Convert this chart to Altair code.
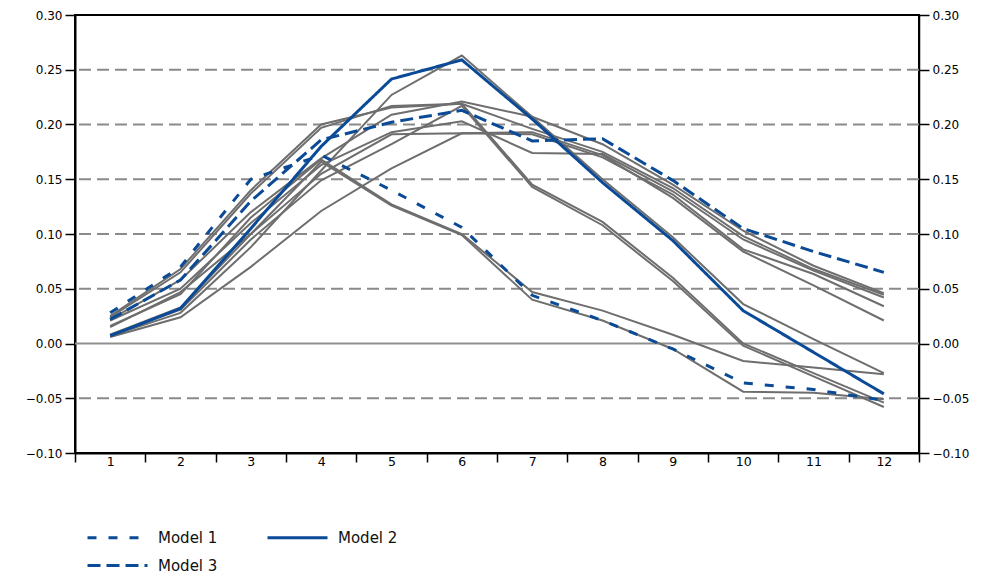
import altair as alt
import pandas as pd

# ---------------- data ----------------
periods = list(range(1, 13))

model_names = ["Model 1", "Model 2", "Model 3"]
model1 = [0.028, 0.070, 0.150, 0.172, 0.140, 0.106, 0.044, 0.021, -0.005, -0.036, -0.042, -0.052]
model2 = [0.007, 0.032, 0.105, 0.180, 0.2415, 0.259, 0.205, 0.147, 0.094, 0.030, -0.008, -0.046]
model3 = [0.022, 0.058, 0.130, 0.186, 0.202, 0.213, 0.185, 0.187, 0.149, 0.105, 0.084, 0.065]

gray_a = [0.022, 0.058, 0.120, 0.169, 0.209, 0.221, 0.207, 0.182, 0.145, 0.103, 0.071, 0.046]
gray_b = [0.024, 0.065, 0.137, 0.197, 0.217, 0.219, 0.196, 0.175, 0.142, 0.098, 0.068, 0.0445]
gray_c = [0.021, 0.050, 0.110, 0.163, 0.193, 0.203, 0.174, 0.173, 0.139, 0.095, 0.0665, 0.042]
gray_d = [0.015, 0.047, 0.100, 0.155, 0.191, 0.192, 0.191, 0.170, 0.136, 0.086, 0.0635, 0.034]
gray_e = [0.006, 0.024, 0.070, 0.121, 0.160, 0.192, 0.193, 0.172, 0.133, 0.084, 0.053, 0.021]
gray_f = [0.007, 0.028, 0.088, 0.158, 0.227, 0.263, 0.207, 0.150, 0.097, 0.036, 0.004, -0.027]
gray_g = [0.016, 0.045, 0.115, 0.168, 0.127, 0.100, 0.047, 0.030, 0.008, -0.016, -0.022, -0.028]
gray_h = [0.008, 0.033, 0.100, 0.166, 0.126, 0.099, 0.040, 0.021, -0.005, -0.044, -0.045, -0.051]
gray_i = [0.025, 0.068, 0.140, 0.200, 0.2155, 0.219, 0.145, 0.111, 0.060, 0.000, -0.027, -0.054]
gray_j = [0.008, 0.031, 0.095, 0.149, 0.182, 0.217, 0.143, 0.108, 0.057, -0.002, -0.030, -0.058]

grid_values = [-0.05, 0.05, 0.10, 0.15, 0.20, 0.25]
zero_value = [0.0]
y_ticks = [-0.10, -0.05, 0.00, 0.05, 0.10, 0.15, 0.20, 0.25, 0.30]

# ---------------- tables ----------------
gray_series = {"a": gray_a, "b": gray_b, "c": gray_c, "d": gray_d, "e": gray_e,
               "f": gray_f, "g": gray_g, "h": gray_h, "i": gray_i, "j": gray_j}
gray_df = pd.DataFrame([
    {"series": k, "period": p, "value": v}
    for k, vals in gray_series.items() for p, v in zip(periods, vals)
])
model_df = pd.DataFrame([
    {"model": m, "period": p, "value": v}
    for m, vals in zip(model_names, [model1, model2, model3]) for p, v in zip(periods, vals)
])
grid_df = pd.DataFrame({"v": grid_values})
zero_df = pd.DataFrame({"v": zero_value})

BLUE = "#0a4a97"
GRAY = "#6e6e6e"
FONT = "DejaVu Sans"

yscale = alt.Scale(domain=[-0.10, 0.30], nice=False, zero=False)
xscale = alt.Scale(type="band", paddingInner=0, paddingOuter=0)

left_axis = alt.Axis(orient="left", values=y_ticks, format=".2f", title=None, grid=False,
                     tickSize=10, tickColor="black", tickWidth=1.5, labelPadding=3,
                     domainColor="black", domainWidth=2, labelFont=FONT, labelFontSize=12,
                     labelColor="black")
right_axis = alt.Axis(orient="right", values=y_ticks, format=".2f", title=None, grid=False,
                      tickSize=10, tickColor="black", tickWidth=1.5, labelPadding=3,
                      domainColor="black", domainWidth=1.5, labelFont=FONT, labelFontSize=12,
                      labelColor="black")
x_axis = alt.Axis(title=None, tickBand="extent", labelAngle=0, tickSize=9, tickColor="black",
                  tickWidth=1.5, labelPadding=-7, domainColor="black", domainWidth=2,
                  labelFont=FONT, labelFontSize=12.5, labelColor="black", grid=False)

grid = alt.Chart(grid_df).mark_rule(color="#8a8a8a", strokeWidth=2, strokeDash=[12, 6]).encode(
    y=alt.Y("v:Q", scale=yscale, axis=left_axis)
)
zero = alt.Chart(zero_df).mark_rule(color="#8f8f8f", strokeWidth=2).encode(
    y=alt.Y("v:Q", scale=yscale, axis=right_axis)
)
grays = alt.Chart(gray_df).mark_line(color=GRAY, strokeWidth=2).encode(
    x=alt.X("period:O", scale=xscale, axis=x_axis),
    y=alt.Y("value:Q", scale=yscale, axis=None),
    detail="series:N",
)
blues = alt.Chart(model_df).mark_line(strokeWidth=3).encode(
    x=alt.X("period:O", scale=xscale),
    y=alt.Y("value:Q", scale=yscale, axis=None),
    color=alt.Color("model:N", scale=alt.Scale(domain=model_names, range=[BLUE, BLUE, BLUE]),
                    legend=alt.Legend(orient="none", legendX=31, legendY=511, direction="horizontal",
                                      columns=2, symbolType="M-3,0H3", symbolSize=400,
                                      symbolStrokeWidth=3, symbolFillColor="transparent",
                                      labelFont=FONT, labelFontSize=15,
                                      labelColor="#111111", title=None, columnPadding=43,
                                      rowPadding=8, labelOffset=29)),
    strokeDash=alt.StrokeDash("model:N", scale=alt.Scale(domain=model_names,
                                                         range=[[9, 12], [1, 0], [13, 6]])),
)

chart = alt.layer(grid, zero, grays, blues).resolve_scale(y="independent").properties(
    width=844, height=438,
    autosize=alt.AutoSizeParams(type="none"),
    padding={"left": 67, "top": 7, "right": 60, "bottom": 120},
).configure_view(stroke="black", strokeWidth=2)

chart.save("out.html", embed_options={"renderer": "svg", "actions": False})
